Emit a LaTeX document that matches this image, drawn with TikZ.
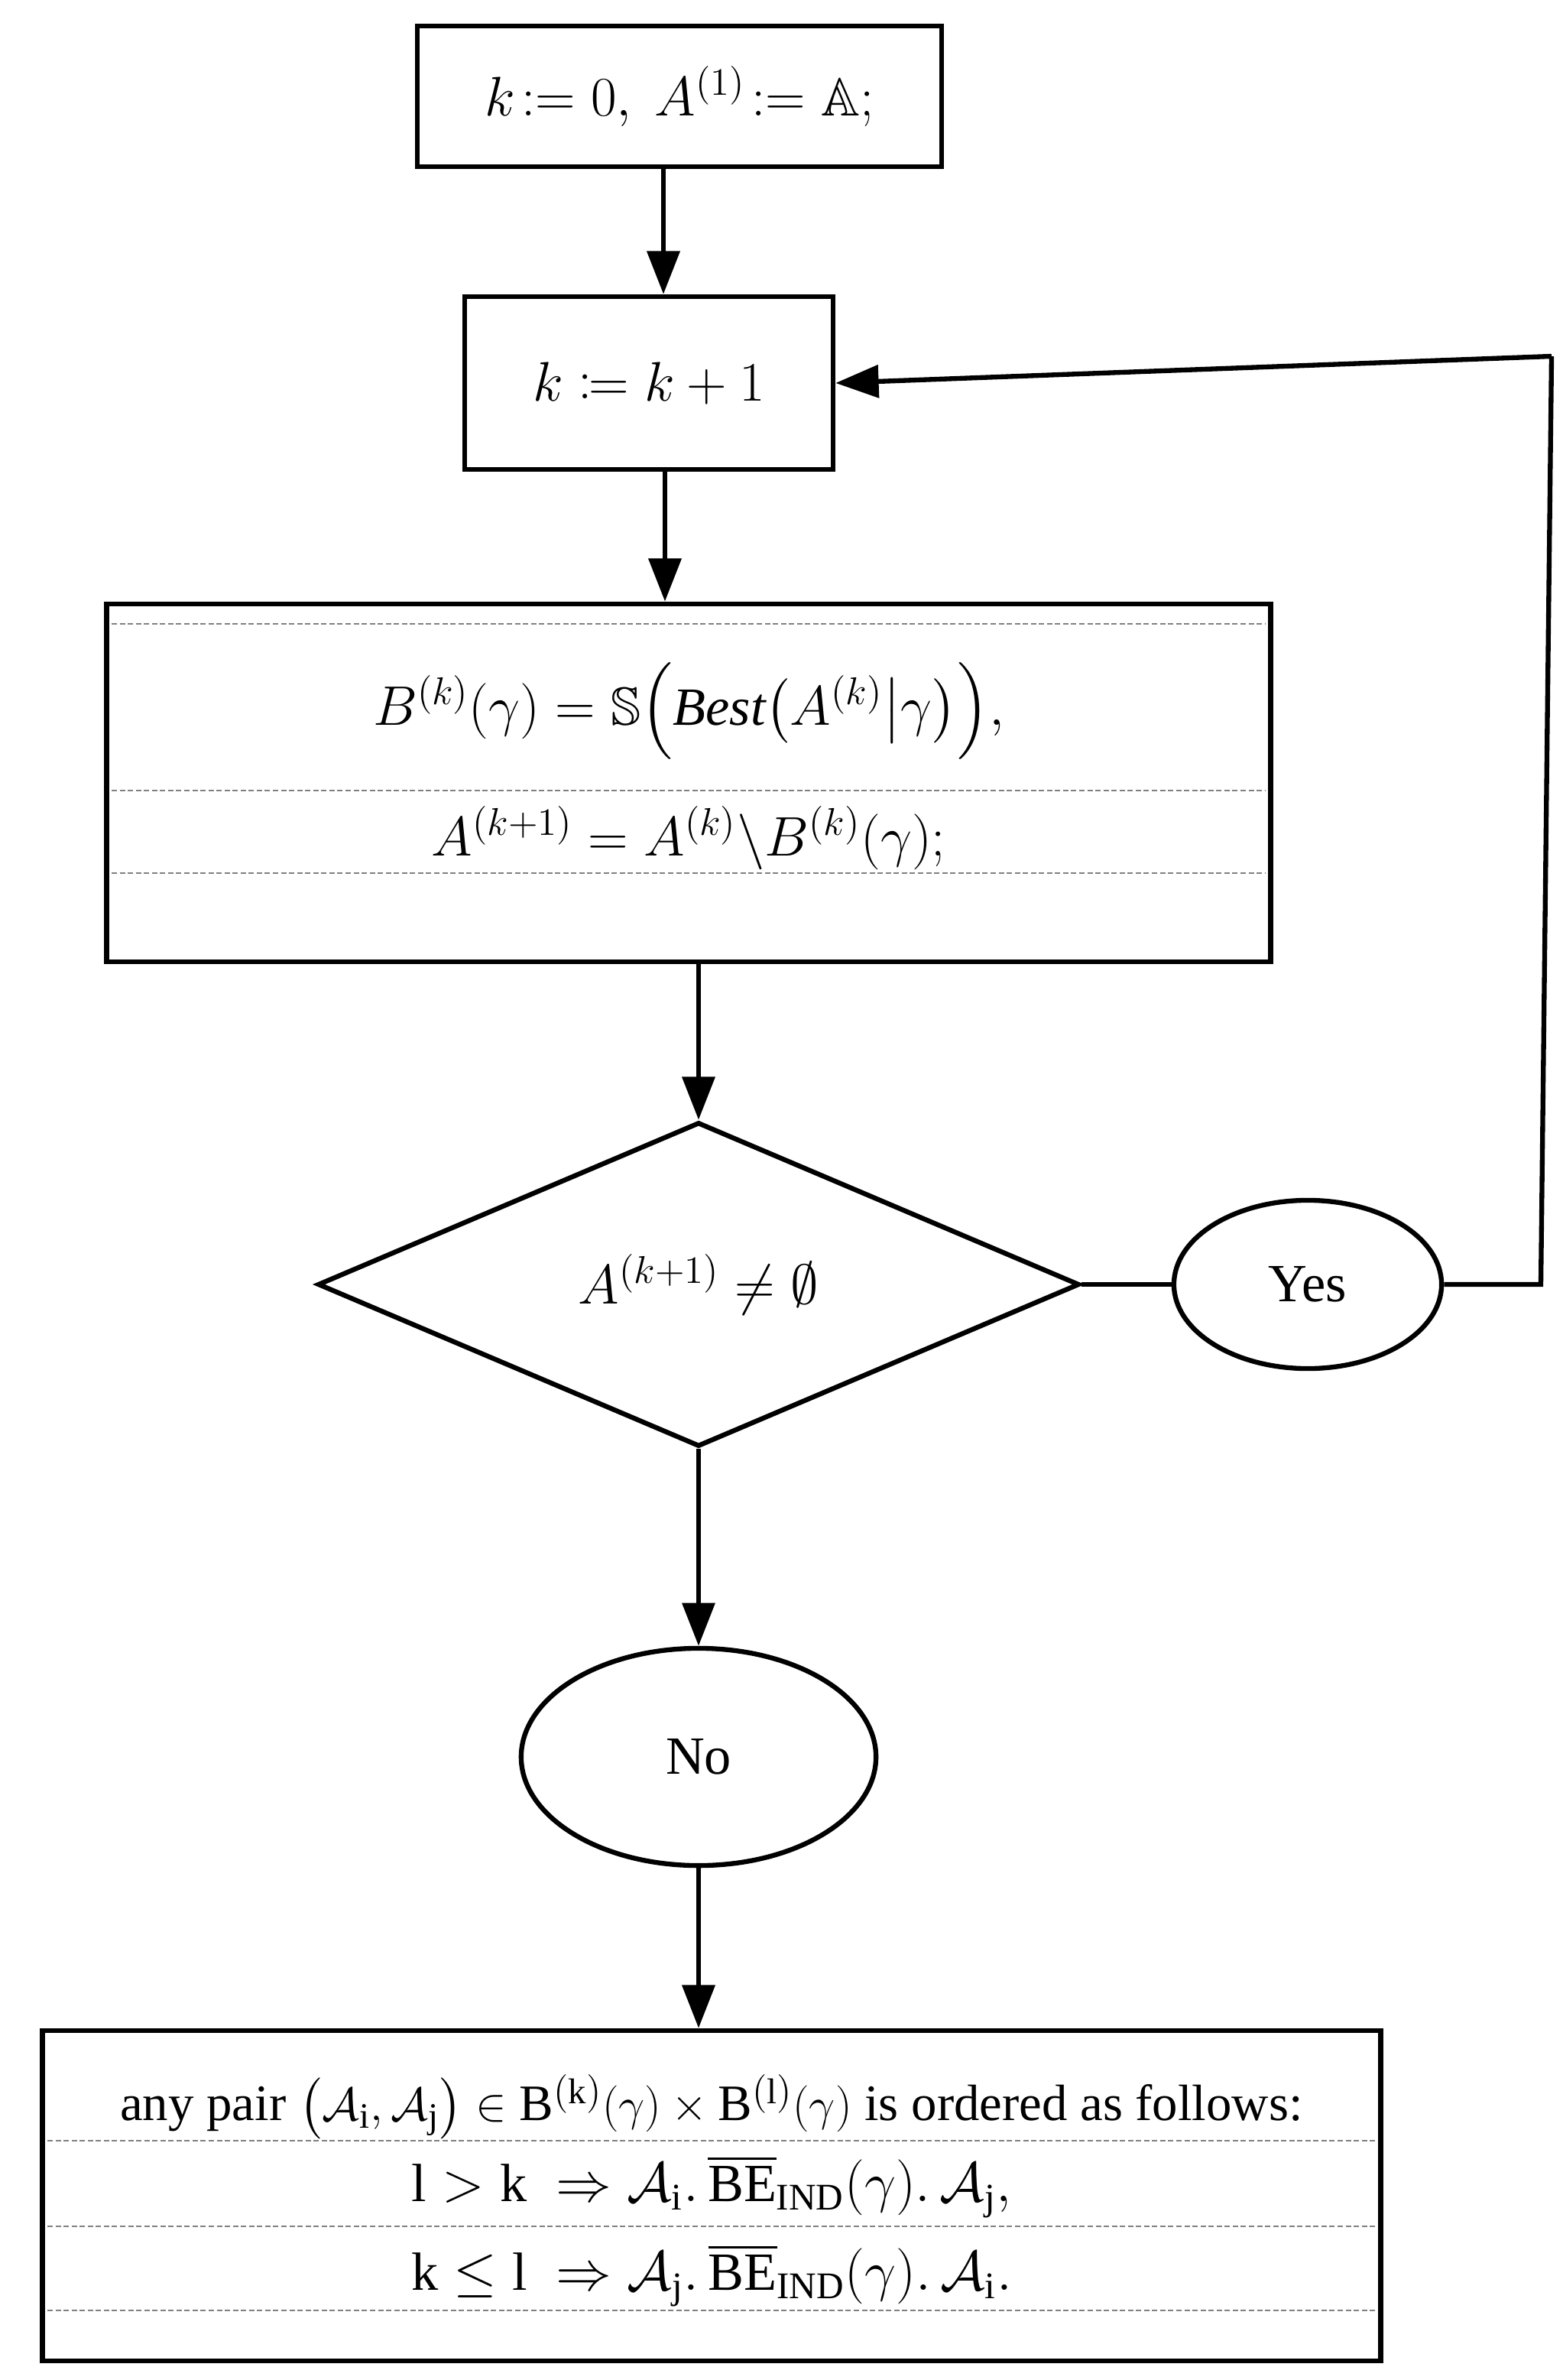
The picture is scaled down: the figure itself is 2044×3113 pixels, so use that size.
\documentclass[tikz,border=0pt]{standalone}
\usepackage{amsmath,amssymb,mathtools}
\usepackage{fontspec}
\setmainfont{Liberation Serif}
\usetikzlibrary{shapes.geometric,arrows.meta}
\begin{document}
\begin{tikzpicture}[x=0.01cm,y=-0.01cm,
  box/.style={draw,line width=1.8pt,inner sep=0pt},
  arr/.style={line width=1.8pt,-{Triangle[length=16pt,width=12pt]}},
  ln/.style={line width=1.8pt},
  dl/.style={gray,line width=0.6pt,dash pattern=on 2pt off 1pt},
  every node/.style={font=\fontsize{20}{24}\selectfont}]
\useasboundingbox (0,0) rectangle (2044,3113);
\node[box,minimum width=6.86cm,minimum height=1.84cm] (b1) at (889,126) {$k\!:=0,\ A^{(1)}\!:=\mathbb{A};$};
\node[box,minimum width=4.82cm,minimum height=2.26cm] (b2) at (849,501) {$k\coloneqq k+1$};
\node[box,minimum width=15.22cm,minimum height=4.68cm] (b3) at (901,1024) {};
\draw[dl] (146,816) -- (1656,816) (146,1034) -- (1656,1034) (146,1142) -- (1656,1142);
\node (t1) at (901,930) {$B^{(k)}(\gamma)=\mathbb{S}\Bigl(\mathit{Best}\bigl(A^{(k)}\big|\gamma\bigr)\Bigr),$};
\node (t2) at (901,1096) {$A^{(k+1)}=A^{(k)}\backslash B^{(k)}(\gamma);$};
\node[box,diamond,aspect=2.35,minimum width=9.96cm,minimum height=4.24cm] (d) at (914,1680) {$A^{(k+1)}\neq\emptyset$};
\node[box,ellipse,minimum width=3.5cm,minimum height=2.2cm] (yes) at (1711,1680) {Yes};
\node[box,ellipse,minimum width=4.64cm,minimum height=2.84cm] (no) at (914,2298) {No};
\node[box,minimum width=17.5cm,minimum height=4.32cm] (b4) at (931,2872) {};
\draw[dl] (62,2800) -- (1800,2800) (62,2912) -- (1800,2912) (62,3022) -- (1800,3022);
\node[font=\fontsize{19}{23}\selectfont] (u1) at (931,2756) {any pair $\bigl(\mathcal{A}_{\mathrm{i}},\mathcal{A}_{\mathrm{j}}\bigr)\in\mathrm{B}^{(\mathrm{k})}(\gamma)\times\mathrm{B}^{(\mathrm{l})}(\gamma)$ is ordered as follows:};
\node (u2) at (931,2860) {$\mathrm{l}>\mathrm{k}\ \Rightarrow\mathcal{A}_{\mathrm{i}}.\,\overline{\mathrm{BE}}_{\mathrm{IND}}(\gamma).\,\mathcal{A}_{\mathrm{j}},$};
\node (u3) at (931,2976) {$\mathrm{k}\leq\mathrm{l}\ \Rightarrow\mathcal{A}_{\mathrm{j}}.\,\overline{\mathrm{BE}}_{\mathrm{IND}}(\gamma).\,\mathcal{A}_{\mathrm{i}}.$};
\coordinate (c1) at (2016,1680);
\coordinate (c2) at (2030,466);
\draw[arr] (b1.south -| 868,0) -- (b2.north -| 868,0);
\draw[arr] (b2.south -| 870,0) -- (b3.north -| 870,0);
\draw[arr] (b3.south -| d.north) -- (d.north);
\draw[ln] (d.east) -- (yes.west);
\draw[ln] (yes.east) -- (c1) -- (c2);
\draw[arr] (c2) -- (b2.east);
\draw[arr] (d.south) -- (no.north);
\draw[arr] (no.south) -- (b4.north -| no.south);
\end{tikzpicture}
\end{document}
